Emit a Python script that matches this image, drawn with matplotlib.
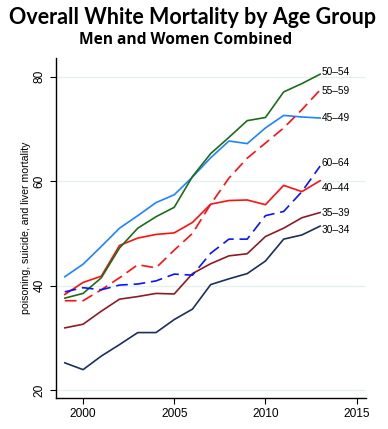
import matplotlib
matplotlib.use('Agg')
import matplotlib.pyplot as plt

years = list(range(1999, 2014))

age_groups = ['30\u201334', '35\u201339', '40\u201344', '45\u201349', '50\u201354', '55\u201359', '60\u201364']

m30_34 = [25.2, 23.9, 26.5, 28.7, 31.0, 31.0, 33.5, 35.5, 40.2, 41.3, 42.3, 44.7, 48.9, 49.7, 51.4]
m35_39 = [31.9, 32.6, 35.1, 37.4, 37.9, 38.5, 38.4, 42.3, 44.2, 45.7, 46.1, 49.4, 51.0, 53.0, 54.0]
m40_44 = [38.3, 40.6, 41.8, 47.7, 49.1, 49.8, 50.1, 52.1, 55.6, 56.3, 56.4, 55.5, 59.2, 58.0, 60.1]
m45_49 = [41.7, 44.1, 47.5, 51.0, 53.4, 55.9, 57.4, 60.8, 64.5, 67.7, 67.2, 70.2, 72.6, 72.3, 72.1]
m50_54 = [37.6, 38.5, 41.5, 47.2, 51.0, 53.2, 55.0, 60.9, 65.3, 68.4, 71.6, 72.2, 77.1, 78.7, 80.5]
m55_59 = [37.1, 37.1, 39.2, 41.5, 44.0, 43.4, 46.8, 50.0, 55.6, 60.6, 64.4, 67.3, 70.2, 73.7, 77.5]
m60_64 = [38.8, 39.6, 39.2, 40.1, 40.3, 40.9, 42.2, 42.0, 46.2, 48.9, 48.9, 53.4, 54.2, 58.0, 62.9]

series = [m30_34, m35_39, m40_44, m45_49, m50_54, m55_59, m60_64]
colors = ['#1c2f5c', '#8e1b24', '#ff1010', '#1e84ff', '#1a6e1a', '#ff1010', '#0a14ff']
dashed = [False, False, False, False, False, True, True]
# small vertical nudges (points) so end labels do not collide
label_nudge = [-3, 0, -5, 0, 1.5, -1, 2]

fig = plt.figure(figsize=(3.88, 4.29), dpi=100)
ax = fig.add_axes([0.1436, 0.0723, 0.799, 0.7925])

for vals, c, d in zip(series, colors, dashed):
    if d:
        ax.plot(years, vals, color=c, lw=1.2, dashes=(7, 3.5))
    else:
        ax.plot(years, vals, color=c, lw=1.2)

for name, vals, nud in zip(age_groups, series, label_nudge):
    ax.annotate(name, (years[-1], vals[-1]), xytext=(1, nud), textcoords='offset points',
                ha='left', va='center', fontsize=7.3, family='Liberation Sans')

ax.set_xlim(1998.5, 2015.5)
ax.set_ylim(18.47, 83.6)
ax.set_xticks([2000, 2005, 2010, 2015])
ax.set_yticks([20, 40, 60, 80])
ax.grid(axis='y', color='#e4f0f0', lw=0.9)
ax.set_axisbelow(True)
for s in ['top', 'right']:
    ax.spines[s].set_visible(False)
for s in ['left', 'bottom']:
    ax.spines[s].set_linewidth(1.0)

ax.tick_params(axis='both', direction='out', length=4, width=0.8, labelsize=8.6)
for lab in ax.get_xticklabels() + ax.get_yticklabels():
    lab.set_family('Liberation Sans')
for lab in ax.get_yticklabels():
    lab.set_rotation(90)
    lab.set_va('center')
ax.set_ylabel('poisoning, suicide, and liver mortality', fontsize=7.6, family='Liberation Sans', labelpad=2)

fig.text(0.497, 0.96, 'Overall White Mortality by Age Group', ha='center', va='center',
         fontsize=15.5, fontweight='bold', family='Lato')
fig.text(0.477, 0.907, 'Men and Women Combined', ha='center', va='center',
         fontsize=11.2, fontweight='bold', family='Open Sans')

plt.savefig('out.png', dpi=100)
